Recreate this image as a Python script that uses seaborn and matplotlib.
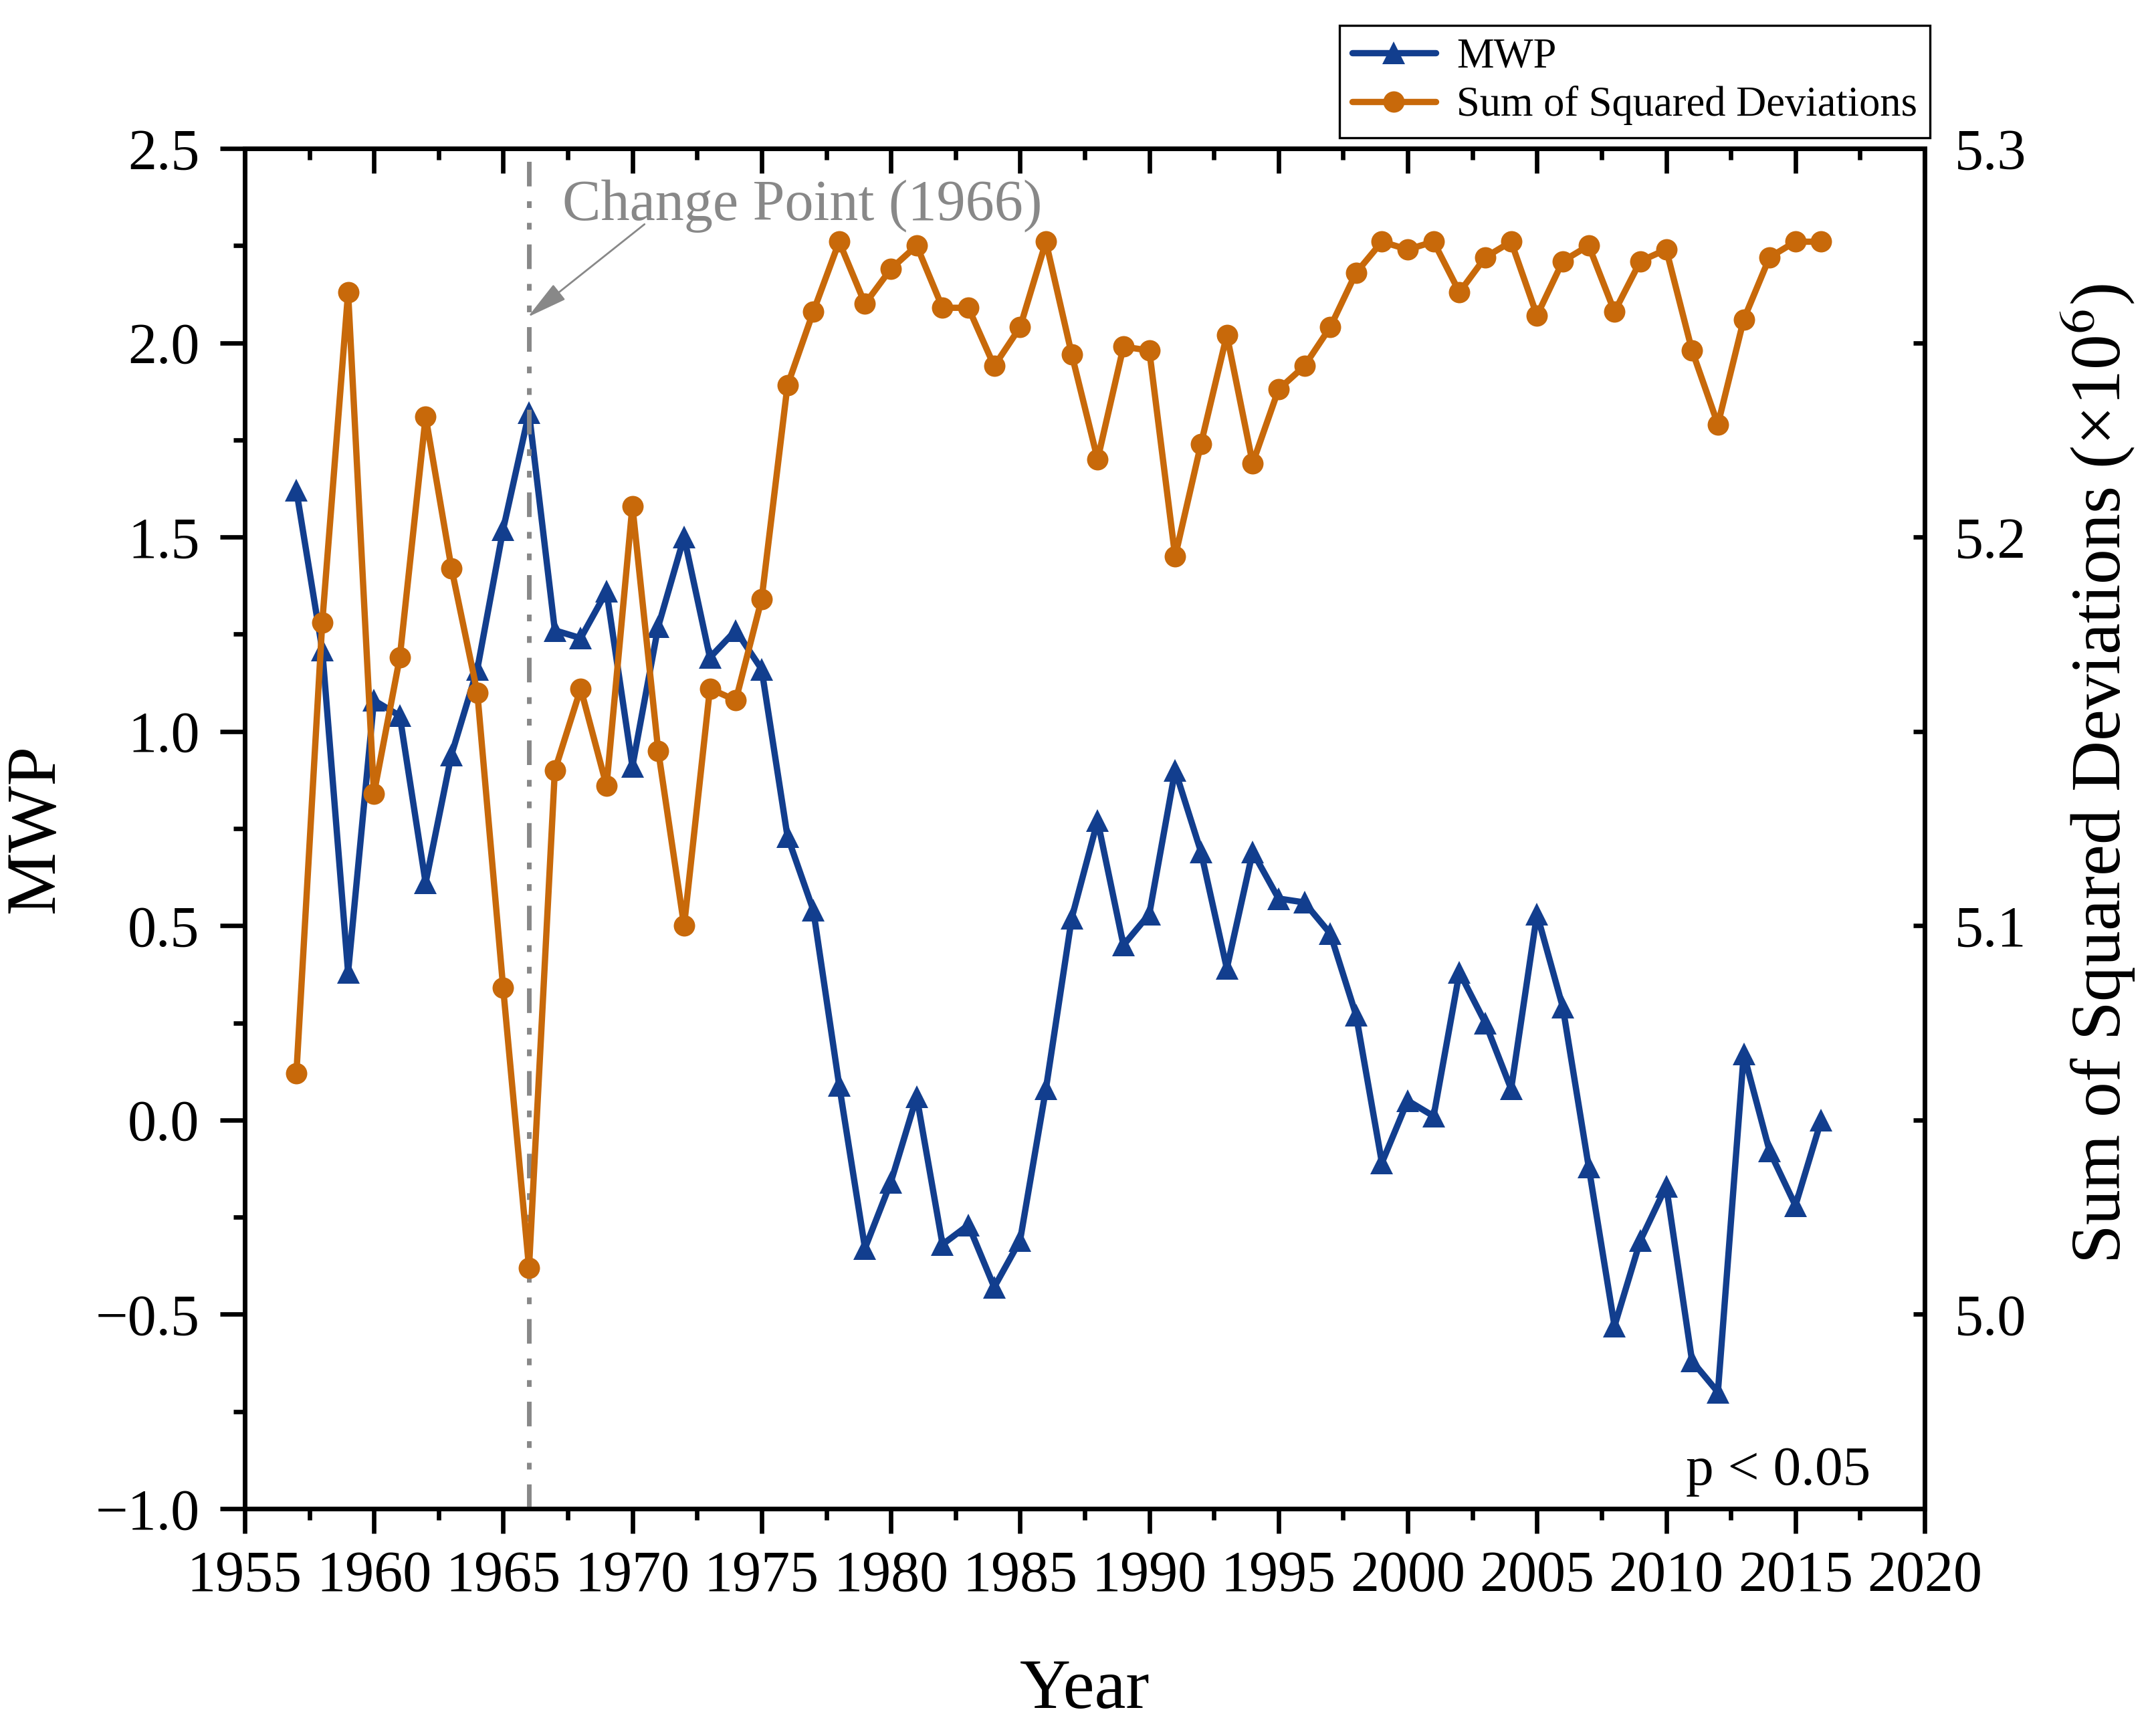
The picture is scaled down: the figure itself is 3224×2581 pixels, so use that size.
import numpy as np
import pandas as pd
import matplotlib
matplotlib.use('Agg')
import matplotlib.pyplot as plt
from matplotlib.ticker import MultipleLocator
import seaborn as sns

# Datos
years = list(range(1957, 2017))

mwp = [1.62, 1.21, 0.38, 1.08, 1.04, 0.61, 0.94, 1.16, 1.52, 1.82,
       1.26, 1.24, 1.36, 0.91, 1.27, 1.50, 1.19, 1.26, 1.16, 0.73,
       0.54, 0.09, -0.33, -0.16, 0.06, -0.32, -0.27, -0.43, -0.31, 0.08,
       0.52, 0.77, 0.45, 0.53, 0.90, 0.69, 0.39, 0.69, 0.57, 0.56,
       0.48, 0.27, -0.11, 0.05, 0.01, 0.38, 0.25, 0.08, 0.53, 0.29,
       -0.12, -0.53, -0.31, -0.17, -0.62, -0.70, 0.17, -0.08, -0.22, 0.00]

ssd = [5.062, 5.178, 5.263, 5.134, 5.169, 5.231, 5.192, 5.160, 5.084, 5.012,
       5.140, 5.161, 5.136, 5.208, 5.145, 5.100, 5.161, 5.158, 5.184, 5.239,
       5.258, 5.276, 5.260, 5.269, 5.275, 5.259, 5.259, 5.244, 5.254, 5.276,
       5.247, 5.220, 5.249, 5.248, 5.195, 5.224, 5.252, 5.219, 5.238, 5.244,
       5.254, 5.268, 5.276, 5.274, 5.276, 5.263, 5.272, 5.276, 5.257, 5.271,
       5.275, 5.258, 5.271, 5.274, 5.248, 5.229, 5.256, 5.272, 5.276, 5.276]

change_year = 1966

df = pd.DataFrame({'Year': years, 'MWP': mwp, 'SSD': ssd})

azul = '#123E8E'
naranja = '#C8690A'
gris = '#888888'

sns.set_style('ticks')
plt.rcParams['font.family'] = ['Liberation Serif', 'DejaVu Serif']
plt.rcParams['mathtext.fontset'] = 'stix'
plt.rcParams['text.color'] = 'black'
plt.rcParams['axes.labelcolor'] = 'black'
plt.rcParams['xtick.color'] = 'black'
plt.rcParams['ytick.color'] = 'black'
plt.rcParams['axes.edgecolor'] = 'black'

fig, ax = plt.subplots(figsize=(16.12, 12.905), dpi=200)
fig.subplots_adjust(left=0.1135, right=0.8927, bottom=0.1259, top=0.9140)
ax2 = ax.twinx()

# Serie MWP (eje izquierdo)
sns.lineplot(data=df, x='Year', y='MWP', ax=ax, color=azul, linewidth=3.4,
             marker='^', markersize=12.5, markeredgewidth=0, errorbar=None,
             label='MWP')
# Suma de desviaciones al cuadrado (eje derecho)
sns.lineplot(data=df, x='Year', y='SSD', ax=ax2, color=naranja, linewidth=3.4,
             marker='o', markersize=11.5, markeredgewidth=0, errorbar=None,
             label='Sum of Squared Deviations')

# Punto de cambio
ax.axvline(change_year, color=gris, linewidth=2.5, zorder=3,
           linestyle=(0, (5.3, 3.2, 1.45, 3.2, 1.45, 3.2)))
ax.annotate('', xy=(1965.95, 2.066), xytext=(1970.47, 2.305),
            arrowprops=dict(arrowstyle='-|>,head_length=1.9,head_width=0.45',
                            color=gris, lw=1.0, mutation_scale=10,
                            shrinkA=0, shrinkB=0), zorder=4)
ax.text(1967.29, 2.316, 'Change Point (1966)', color=gris, fontsize=31,
        ha='left', va='baseline', zorder=4)
ax.text(0.968, 0.0177, 'p < 0.05', transform=ax.transAxes, fontsize=30,
        ha='right', va='baseline', color='black')

# Ejes
ax.set_xlim(1955, 2020)
ax.set_ylim(-1.0, 2.5)
ax2.set_ylim(4.95, 5.3)
ax.xaxis.set_major_locator(MultipleLocator(5))
ax.xaxis.set_minor_locator(MultipleLocator(2.5))
ax.yaxis.set_major_locator(MultipleLocator(0.5))
ax.yaxis.set_minor_locator(MultipleLocator(0.25))
ax2.yaxis.set_major_locator(MultipleLocator(0.1))
ax2.yaxis.set_minor_locator(MultipleLocator(0.05))

ax.tick_params(axis='both', which='major', direction='out', length=13.3,
               width=2.4, labelsize=31, colors='black')
ax.tick_params(axis='both', which='minor', direction='out', length=6,
               width=2.4, colors='black')
ax.tick_params(axis='y', which='major', pad=11)
ax.tick_params(axis='x', which='major', pad=9)
ax2.tick_params(axis='y', which='both', direction='in', length=6, width=2.4,
                labelsize=31, pad=16, colors='black')

# Ticks interiores en el borde superior
top = ax.secondary_xaxis('top')
top.xaxis.set_major_locator(MultipleLocator(5))
top.xaxis.set_minor_locator(MultipleLocator(2.5))
top.tick_params(which='major', direction='in', length=13.3, width=2.4,
                labeltop=False, colors='black')
top.tick_params(which='minor', direction='in', length=6, width=2.4,
                colors='black')

for a in (ax, ax2, top):
    for s in a.spines.values():
        s.set_linewidth(2.4)
        s.set_color('black')

ax.set_xlabel('Year', fontsize=38, labelpad=30)
ax.set_ylabel('MWP', fontsize=38, labelpad=14)
ax2.set_ylabel('Sum of Squared Deviations (×10$^{6}$)', fontsize=38,
               labelpad=18)
ax2.yaxis.label.set_y(0.54)

# Leyenda comun
h1, l1 = ax.get_legend_handles_labels()
h2, l2 = ax2.get_legend_handles_labels()
ax.get_legend().remove()
ax2.get_legend().remove()
leg = fig.legend(h1 + h2, l1 + l2, loc='upper left',
                 bbox_to_anchor=(0.6213, 0.9853), fontsize=22.5,
                 frameon=True, fancybox=False, framealpha=1,
                 edgecolor='black', borderpad=0.3, labelspacing=0.22,
                 handlelength=2.0, handletextpad=0.5, borderaxespad=0)
leg.get_frame().set_linewidth(1.2)

plt.savefig('out.png', dpi=200)
